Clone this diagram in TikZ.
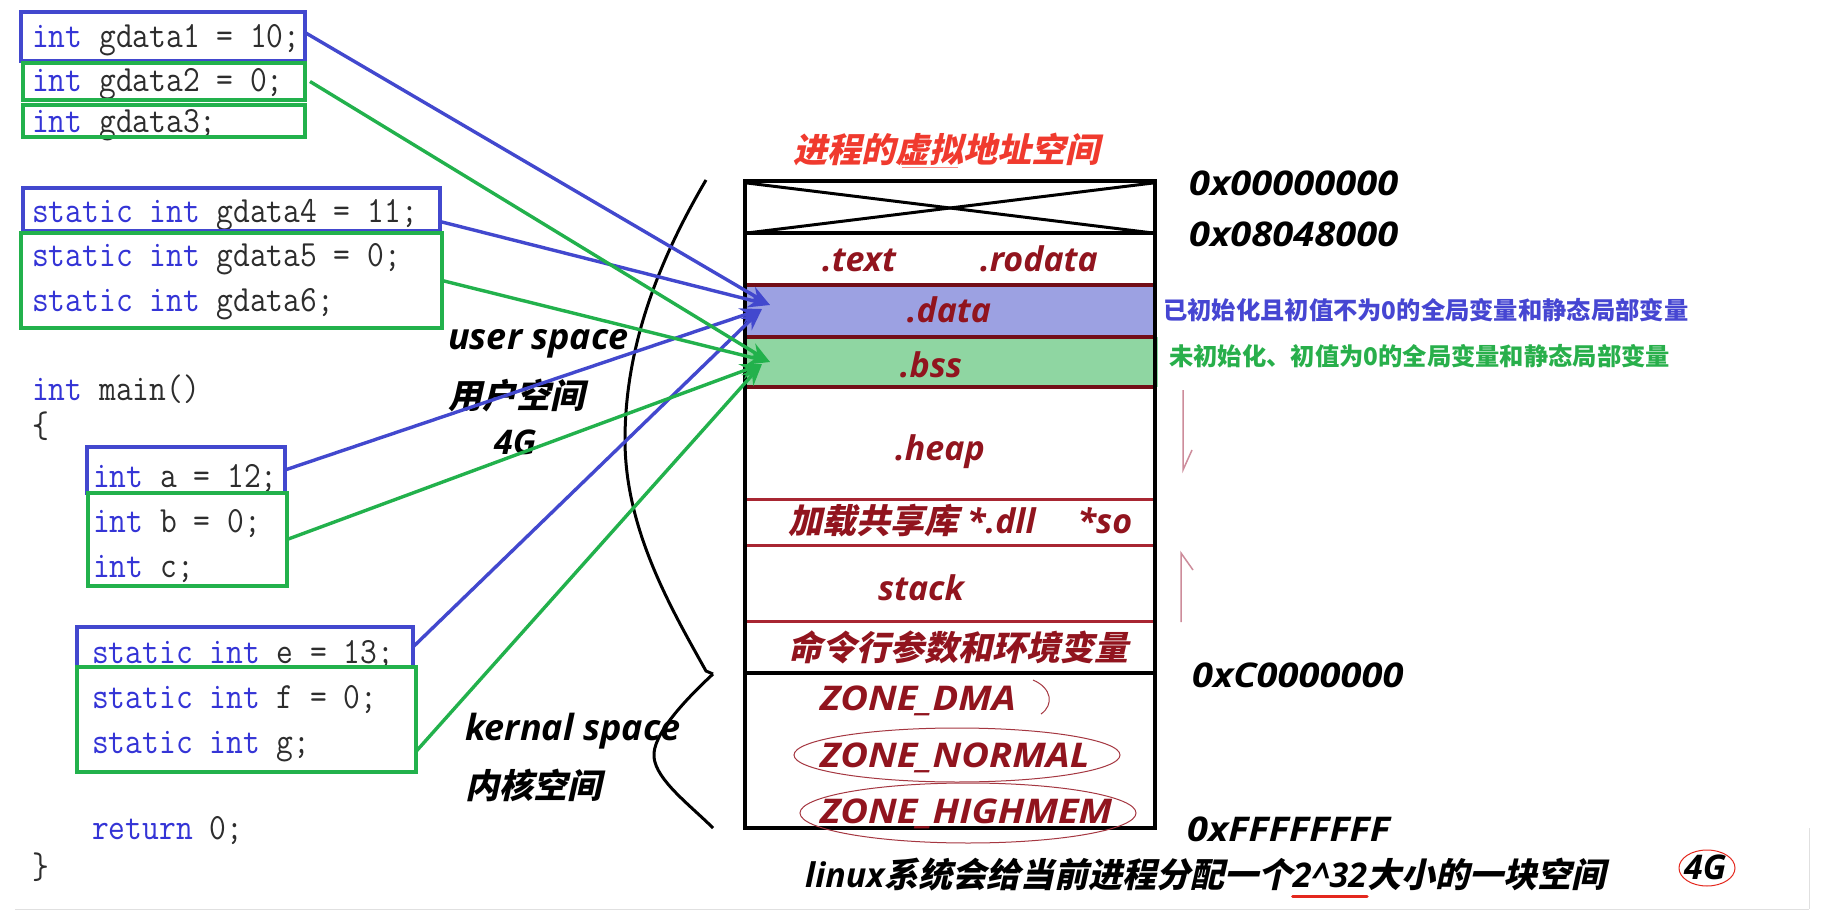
\documentclass[tikz,border=0pt]{standalone}
\usepackage{fontspec}
\usetikzlibrary{arrows.meta,calc}
\newfontfamily\lat{Open Sans}
\newfontfamily\latw{Open Sans}[FakeStretch=1.12]
\newfontfamily\zhs{Noto Sans CJK SC}[FakeSlant=0.22]
\newfontfamily\zh{Noto Sans CJK SC}
\definecolor{kwblue}{RGB}{52,52,214}
\definecolor{codegray}{RGB}{45,45,45}
\definecolor{boxblue}{RGB}{66,72,206}
\definecolor{boxgreen}{RGB}{34,177,76}
\definecolor{datafill}{RGB}{156,161,226}
\definecolor{bssfill}{RGB}{143,214,162}
\definecolor{segmaroon}{RGB}{115,14,24}
\definecolor{segred}{RGB}{168,38,50}
\definecolor{lblred}{RGB}{145,20,30}
\definecolor{titlered}{RGB}{240,58,46}
\definecolor{annblue}{RGB}{70,70,210}
\definecolor{anngreen}{RGB}{40,175,75}
\definecolor{inkred}{RGB}{165,55,65}
\definecolor{pinkink}{RGB}{205,140,155}
\definecolor{ulred}{RGB}{228,40,30}
\newcommand{\kw}[1]{\textcolor{kwblue}{#1}}
\newcommand{\codefmt}{\ttfamily\fontsize{37}{37}\selectfont\color{codegray}}
\newcommand{\latbi}{\lat\bfseries\itshape\fontsize{34}{34}\selectfont}
\newcommand{\latbib}{\lat\bfseries\itshape\fontsize{36}{36}\selectfont}
\newcommand{\latwbi}{\latw\bfseries\itshape\fontsize{34}{34}\selectfont}
\newcommand{\cl}[1]{\scalebox{0.88}[1]{#1}}
\newcommand{\cjk}[1]{{\zhs\upshape #1}}
\begin{document}
\begin{tikzpicture}[x=1pt,y=-1pt,
  codeline/.style={anchor=base west, inner sep=0pt, font=\codefmt},
  bbox/.style={draw=boxblue, line width=4pt, inner sep=0pt, outer sep=0pt, anchor=north west},
  gbox/.style={draw=boxgreen, line width=4pt, inner sep=0pt, outer sep=0pt, anchor=north west},
  barrow/.style={draw=boxblue, line width=3.4pt, -{Stealth[length=22pt,width=16pt]}},
  garrow/.style={draw=boxgreen, line width=3.4pt, -{Stealth[length=22pt,width=16pt]}},
  seglbl/.style={text=lblred, inner sep=0pt, anchor=base, font=\latbi},
  zonelbl/.style={text=lblred, inner sep=0pt, anchor=base west, font=\latwbi},
  blk/.style={inner sep=0pt, anchor=base west, font=\latbi, text=black},
  addr/.style={inner sep=0pt, anchor=base west, font=\latwbi, text=black},
  sepdark/.style={draw=segmaroon, line width=4pt},
  seplight/.style={draw=segred, line width=3pt},
  curve/.style={draw=black, line width=3pt},
  ink/.style={draw=inkred, line width=1pt},
  faint/.style={draw=black!12, line width=1pt}
]
\useasboundingbox (0,0) rectangle (1824,912);
\fill[white] (0,0) rectangle (1824,912);

% ---------- code ----------
\node[codeline] (c1) at (32,48) {\cl{\kw{int} gdata1 = 10;}};
\node[codeline] (c2) at (32,92) {\cl{\kw{int} gdata2 = 0;}};
\node[codeline] (c3) at (32,133) {\cl{\kw{int} gdata3;}};
\node[codeline] (c4) at (32,223) {\cl{\kw{static} \kw{int} gdata4 = 11;}};
\node[codeline] (c5) at (32,267) {\cl{\kw{static} \kw{int} gdata5 = 0;}};
\node[codeline] (c6) at (32,312) {\cl{\kw{static} \kw{int} gdata6;}};
\node[codeline] (c7) at (32,400) {\cl{\kw{int} main()}};
\node[codeline] (c8) at (32,437) {\cl{\{}};
\node[codeline] (c9) at (93,487) {\cl{\kw{int} a = 12;}};
\node[codeline] (c10) at (93,532) {\cl{\kw{int} b = 0;}};
\node[codeline] (c11) at (93,577) {\cl{\kw{int} c;}};
\node[codeline] (c12) at (92,663) {\cl{\kw{static} \kw{int} e = 13;}};
\node[codeline] (c13) at (92,708) {\cl{\kw{static} \kw{int} f = 0;}};
\node[codeline] (c14) at (92,753) {\cl{\kw{static} \kw{int} g;}};
\node[codeline] (c15) at (92,839) {\cl{\kw{return} 0;}};
\node[codeline] (c16) at (32,878) {\cl{\}}};

% ---------- code boxes ----------
\node[bbox, minimum width=284pt, minimum height=49pt] (b1) at (21,12) {};
\node[gbox, minimum width=282pt, minimum height=37pt] (b2) at (23,63) {};
\node[gbox, minimum width=282pt, minimum height=32pt] (b3) at (23,105) {};
\node[bbox, minimum width=417pt, minimum height=43pt] (b4) at (23,188) {};
\node[gbox, minimum width=421pt, minimum height=95pt] (b5) at (21,233) {};
\node[bbox, minimum width=198pt, minimum height=46pt] (b6) at (87,447) {};
\node[gbox, minimum width=199pt, minimum height=93pt] (b7) at (88,493) {};
\node[bbox, minimum width=336pt, minimum height=40pt] (b8) at (77,627) {};
\node[gbox, minimum width=339pt, minimum height=105pt] (b9) at (77,667) {};

% ---------- memory layout ----------
\fill[datafill] (745,285) rectangle (1155,337);
\fill[bssfill] (745,337) rectangle (1158,387);
\draw[black, line width=3pt] (747,183) -- (1153,233);
\draw[black, line width=3pt] (747,233) -- (1153,183);
\draw[black, line width=4pt] (745,233) -- (1155,233);
\draw[sepdark] (745,285) -- (1155,285);
\draw[sepdark] (745,337) -- (1155,337);
\draw[sepdark] (745,387) -- (1155,387);
\draw[seplight] (745,499) -- (1155,499);
\draw[seplight] (745,545) -- (1155,545);
\draw[seplight] (745,621) -- (1155,621);
\draw[black, line width=4pt] (745,673) -- (1155,673);
\node[draw=black, line width=4pt, inner sep=0pt, outer sep=0pt, anchor=north west,
      minimum width=410pt, minimum height=647pt] (mem) at (745,181) {};

\node[font=\zhs\bfseries\fontsize{34}{34}\selectfont, text=titlered, inner sep=0pt] (title) at (946,149) {进程的虚拟地址空间};
\draw[titlered!60, line width=1pt] (902,168) -- (958,168);

\node[seglbl] (stext) at (859,272) {.text};
\node[seglbl] (srodata) at (1039,272) {.rodata};
\node[seglbl] (sdata) at (949,322) {.data};
\node[seglbl] (sbss) at (931,377) {.bss};
\node[seglbl] (sheap) at (940,460) {.heap};
\node[seglbl, anchor=base west] (sdll) at (788,533) {\cjk{加载共享库} *.dll\hspace{42pt}*so};
\node[seglbl] (sstack) at (921,600) {stack};
\node[seglbl, anchor=base west] (senv) at (788,660) {\cjk{命令行参数和环境变量}};
\node[zonelbl] (zdma) at (820,710) {ZONE\_DMA};
\node[zonelbl] (znormal) at (820,767) {ZONE\_NORMAL};
\node[zonelbl] (zhigh) at (820,823) {ZONE\_HIGHMEM};

\draw[ink] (957,755) ellipse [x radius=163, y radius=27];
\draw[ink] (968,813) ellipse [x radius=168, y radius=30];
\draw[ink] (1033,680) .. controls (1052,688) and (1054,705) .. (1041,714);

% grow marks
\draw[pinkink, line width=1.5pt] (1183,390) -- (1183,470) -- (1192,450);
\draw[pinkink, line width=1.5pt] (1193,570) -- (1181,553) -- (1181,622);

% ---------- addresses ----------
\node[addr] (a0) at (1189,196) {0x00000000};
\node[addr] (a1) at (1189,247) {0x08048000};
\node[addr] (a2) at (1192,687) {0xC0000000};
\node[addr] (a3) at (1187,841) {0xFFFFFFFF};

% ---------- annotations ----------
\node[anchor=base west, inner sep=0pt, text=annblue, font=\zh\bfseries\fontsize{24.3}{24.3}\selectfont] (anndata) at (1163,319) {已初始化且初值不为0的全局变量和静态局部变量};
\node[anchor=base west, inner sep=0pt, text=anngreen, font=\zh\bfseries\fontsize{24.3}{24.3}\selectfont] (annbss) at (1169,365) {未初始化、初值为0的全局变量和静态局部变量};

% ---------- space labels ----------
\node[blk, font=\latbib] (us1) at (448,349) {user space};
\node[blk] (us2) at (448,408) {\cjk{用户空间}};
\node[blk] (us3) at (494,454) {4G};
\node[blk, font=\latbib] (ks1) at (465,740) {kernal space};
\node[blk] (ks2) at (465,798) {\cjk{内核空间}};

\draw[curve] (706,180) .. controls (656,265) and (625,350) .. (625,440)
             .. controls (625,530) and (672,610) .. (706,671) -- (713,674);
\draw[curve] (713,674) .. controls (685,700) and (652,735) .. (654,757)
             .. controls (656,780) and (690,805) .. (713,828);

% ---------- bottom line ----------
\node[blk] (bl1) at (805,887) {linux\cjk{系统会给当前进程分配一个}};
\node[blk] (pow) at (bl1.base east) {2\textasciicircum32};
\node[blk] (bl3) at (pow.base east) {\cjk{大小的一块空间}};
\draw[ulred, line width=3pt, line cap=round] ([yshift=-9pt]pow.base west) -- ([yshift=-9pt]pow.base east);
\node[blk] (g4) at (1684,879) {4G};
\draw[draw=ulred, line width=1pt] (1707,868) ellipse [x radius=28, y radius=18];

% faint frame
\draw[faint] (15,909) -- (1809,909);
\draw[faint] (1809,828) -- (1809,909);

% ---------- arrows ----------
\coordinate (dtipA) at (770,305);
\coordinate (dtipB) at (762,309);
\coordinate (btipA) at (770,362);
\coordinate (btipB) at (762,364);
\draw[barrow] ([yshift=4pt]b1.east) -- (dtipA);
\draw[barrow] ([yshift=-12pt]b4.east) -- (dtipA);
\draw[barrow] (b6.east) -- (dtipB);
\draw[barrow] (b8.east) -- (dtipB);
\draw[garrow] ([xshift=5pt]b2.east) -- (btipA);
\draw[garrow] (b5.east) -- (btipA);
\draw[garrow] (b7.east) -- (btipB);
\draw[garrow] ([yshift=-32pt]b9.east) -- (btipB);
\end{tikzpicture}
\end{document}
